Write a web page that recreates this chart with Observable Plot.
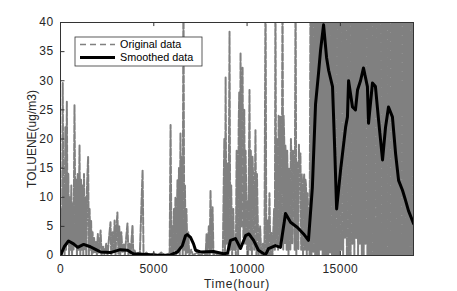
<!DOCTYPE html>
<html>
<head>
<meta charset="utf-8">
<script src="https://cdn.jsdelivr.net/npm/d3@7"></script>
<script src="https://cdn.jsdelivr.net/npm/@observablehq/plot@0.6"></script>
<style>
  html, body { margin: 0; padding: 0; background: #fff; }
  #chart { width: 457px; height: 291px; }
  #chart g[aria-label="x-axis tick label"] text { letter-spacing: 0.5px; }
  #chart g[aria-label="y-axis tick label"] text { letter-spacing: 0.4px; }
  #chart g[aria-label="x-axis label"] text { letter-spacing: 0.8px; }
</style>
</head>
<body>
<div id="chart"></div>
<script>
const xTicks = [0, 5000, 10000, 15000];
const yTicks = [0, 5, 10, 15, 20, 25, 30, 35, 40];
const xLabel = "Time(hour)";
const yLabel = "TOLUENE(ug/m3)";
const seriesNames = ["Original data", "Smoothed data"];

// Original hourly data (hour, ug/m3), read as spikes from the picture
const original = [
  [0,0],[40,8],[80,0],[120,29.6],[160,1],[180,12],[220,0],[260,22],[300,1],[340,26.4],[380,2],[420,14],[460,0],[500,10],[540,1],[580,12],[620,0],[660,9],[700,1],[750,25.8],[800,2],[840,13],[880,0],[920,14],[960,1],[1020,18.9],[1060,0],[1100,13],[1140,1],[1180,12],[1220,0],[1260,14],[1300,1],[1340,10],[1380,0],[1420,11.7],[1480,16.9],[1520,0],[1560,8],[1600,1],[1640,6],[1680,0],[1720,4],[1760,0.5],[1800,3],[1850,0.5],
  [1900,2.3],[1950,0],[2000,3.7],[2050,0.5],[2100,2],[2150,4.3],[2200,0],[2280,1.5],[2350,0.2],[2450,2],[2520,0],[2600,3],[2680,5.7],[2720,0],[2800,4],[2850,0.5],[2900,6],[2950,0],[3000,4.5],[3050,7.4],[3100,0.3],[3150,5],[3200,0],[3260,4],[3320,0.5],[3400,2],[3450,0],[3520,3],[3590,5.5],[3640,0],[3700,2],[3760,0.3],[3860,5.2],[3900,0],[3960,1],[4050,0],[4150,0.5],[4250,0],[4400,14.6],[4450,0],[4600,0.5],[4800,0],[5000,0.4],[5200,0],[5400,0.5],[5600,0],[5800,0.3],[5850,0],
  [5900,22.4],[5950,0],[6000,5],[6040,0],[6080,8],[6120,1],[6160,10],[6200,0],[6270,12.9],[6310,1],[6350,15],[6390,0],[6430,21],[6470,2],[6510,17],[6550,0],[6590,48],[6630,1],[6670,12],[6710,0],[6750,8],[6800,0.5],[6850,4],[6900,0],[7000,1],[7100,0],[7300,0.5],[7500,0],[7700,0.5],[7780,0],[7830,3.7],[7880,0],[7950,5],[8000,0],[8040,11.2],[8090,1],[8150,8.3],[8200,0],[8300,0.5],[8450,0],[8600,0.3],[8700,0],
  [8780,20],[8820,0],[8850,30.6],[8890,2],[8950,15.8],[9000,0],[9060,38.4],[9100,1],[9150,12],[9200,0],[9260,8],[9300,1],[9350,3],[9400,0],[9440,18],[9480,10],[9520,0],[9550,22],[9580,28],[9620,2],[9650,34.8],[9690,5],[9720,26],[9760,32.4],[9800,3],[9830,22],[9850,25],[9890,2],[9920,18],[9950,12],[10000,1],[10020,9.5],[10060,0],[10100,16],[10130,28.4],[10170,1],[10200,18],[10220,10],[10260,0],[10290,17],[10320,14],[10380,1],[10420,12],[10450,21.5],[10500,0],[10530,14],[10560,8],[10620,0],[10700,5],[10760,0],[10850,2],[10930,0],
  [10990,48],[11030,0],[11100,6],[11150,0],[11200,10.7],[11250,0],[11300,4],[11360,0],[11450,8],[11490,1],[11520,48],[11560,2],[11590,20],[11620,15],[11660,1],[11690,24],[11720,22],[11760,2],[11790,23.8],[11830,3],[11850,22],[11870,18],[11900,48],[11940,1],[11960,24],[11990,20],[12030,2],[12050,19],[12080,17],[12120,1],[12150,18],[12180,12],[12220,0],[12250,15],[12280,9],[12320,1],[12350,20],[12380,16],[12420,2],[12460,18],[12500,14],[12550,1],[12600,48],[12640,0],[12670,16],[12700,12],[12750,1],[12780,19],[12800,15],[12860,17.5],[12900,1],[12930,14],[12960,10],[13000,0],[13030,12],[13060,14],[13100,1],[13130,13],[13160,12],[13200,0],[13240,10.7],[13290,1],[13330,8],
  [13350,0],[13400,46],[13450,0],[13500,45],[13550,0.5],[13600,48],[13650,0],[13700,44],[13750,0],[13800,47],[13850,0],[13900,45],[13950,1],[14000,50],[14050,0],[14100,46],[14150,0],[14200,44],[14250,0],[14300,48],[14350,0],[14400,45],[14450,0.5],[14500,47],[14550,0],[14600,44],[14650,0],[14700,46],[14750,0],[14800,45],[14850,0],[14900,49],[14950,0],[15000,44],[15050,1],[15100,46],[15150,0],[15200,45],[15250,3],[15300,47],[15350,0],[15400,44],[15450,0],[15500,46],[15550,0],[15600,48],[15650,2],[15700,45],[15750,0],[15800,44],[15850,3],[15900,47],[15950,0],[16000,45],[16050,2],[16100,46],[16150,0],[16200,44],[16250,0],[16300,48],[16350,2],[16400,45],[16450,0],[16500,46],[16550,0],[16600,44],[16650,0],[16700,47],[16750,0],[16800,45],[16850,0],[16900,46],[16950,0],[17000,44],[17050,0],[17100,48],[17150,0],[17200,45],[17250,0],[17300,46],[17350,0],[17400,44],[17450,0],[17500,47],[17550,0],[17600,45],[17650,0],[17700,46],[17750,0],[17800,44],[17850,0],[17900,48],[17950,0],[18000,45],[18050,0],[18100,46],[18150,0],[18200,44],[18250,0],[18300,47],[18350,0],[18400,45],[18450,0],[18500,46],[18550,0],[18600,44],[18650,0],[18700,47],[18750,0],[18800,45],[18850,0],[18900,46]
];

// Smoothed curve (hour, ug/m3)
const smoothed = [
  [0,0],[200,1.5],[430,2.5],[700,2.0],[920,1.4],[1240,1.9],[1600,1.5],[1900,1.0],[2150,0.6],[2680,0.5],[3200,1.0],[3590,0.9],[3900,0.3],[4450,0.2],[5200,0.05],[5900,0.1],[6270,0.6],[6530,1.7],[6700,3.4],[6800,3.6],[6970,3.1],[7130,2.0],[7240,0.9],[7500,0.6],[8200,0.7],[8740,0.3],[8950,0.4],[9110,2.6],[9380,2.9],[9650,1.2],[9920,3.4],[10100,3.7],[10350,2.6],[10610,0.9],[10990,0.1],[11150,1.2],[11520,1.7],[11790,1.4],[12060,7.2],[12330,5.7],[12700,4.8],[13030,3.7],[13290,2.6],[13500,11.7],[13670,26],[13830,31.3],[13940,35.3],[14100,39.6],[14260,34],[14370,31.8],[14580,29],[14700,18],[14800,8],[15010,14.6],[15280,22],[15380,23.8],[15440,30],[15650,25.5],[15810,25],[15920,28.4],[16080,30],[16240,32.2],[16450,29],[16510,22.7],[16720,29.6],[16880,29],[17050,23.2],[17260,16.4],[17420,22],[17580,25.5],[17790,23.8],[17960,17.5],[18120,12.9],[18330,11.2],[18490,9.5],[18650,7.7],[18920,5.5]
];

const chart = Plot.plot({
  width: 457,
  height: 291,
  marginLeft: 60,
  marginRight: 44,
  marginTop: 22,
  marginBottom: 36,
  style: { fontFamily: "'Liberation Sans', Arial, sans-serif", fontSize: "12px", background: "#fff", color: "#262626" },
  x: { domain: [0, 18920], label: null },
  y: { domain: [0, 40], label: null },
  marks: [
    Plot.line(original, { x: d => d[0], y: d => d[1], stroke: "#808080", strokeWidth: 2, strokeDasharray: "7,2", clip: true }),
    Plot.line(smoothed, { x: d => d[0], y: d => d[1], stroke: "#000", strokeWidth: 3, strokeLinejoin: "round", clip: true }),
    Plot.frame({ stroke: "#333", strokeWidth: 1 }),
    Plot.ruleX(xTicks, { x: d => d, y1: 0, y2: 0.7, stroke: "#333" }),
    Plot.ruleX(xTicks, { x: d => d, y1: 39.3, y2: 40, stroke: "#333" }),
    Plot.ruleY(yTicks, { y: d => d, x1: 0, x2: 240, stroke: "#333" }),
    Plot.axisX({ ticks: xTicks, tickSize: 0, tickPadding: 9, tickFormat: d => String(d), label: xLabel, labelAnchor: "center", labelArrow: "none", labelOffset: 32, fontSize: 12 }),
    Plot.axisY({ ticks: yTicks, tickSize: 0, tickPadding: 7, label: yLabel, labelAnchor: "center", labelArrow: "none", labelOffset: 33, fontSize: 12 })
  ]
});

document.getElementById("chart").appendChild(chart);

// Legend (MATLAB style, inside the axes, top-left)
const svg = d3.select(chart);
const lg = svg.append("g")
  .attr("font-family", "'Liberation Sans', Arial, sans-serif")
  .attr("font-size", 10.8)
  .attr("text-anchor", "start")
  .attr("fill", "#000");
lg.append("rect").attr("x", 75).attr("y", 37).attr("width", 127).attr("height", 29).attr("fill", "#fff").attr("stroke", "#333").attr("stroke-width", 0.8);
lg.append("line").attr("x1", 80).attr("x2", 115).attr("y1", 44.5).attr("y2", 44.5).attr("stroke", "#808080").attr("stroke-width", 1.3).attr("stroke-dasharray", "6,4");
lg.append("line").attr("x1", 80).attr("x2", 115).attr("y1", 57.5).attr("y2", 57.5).attr("stroke", "#000").attr("stroke-width", 3);
lg.append("text").attr("x", 120).attr("y", 44.5).attr("dy", "0.35em").attr("text-anchor", "start").text(seriesNames[0]);
lg.append("text").attr("x", 120).attr("y", 57.5).attr("dy", "0.35em").attr("text-anchor", "start").text(seriesNames[1]);
</script>
</body>
</html>
